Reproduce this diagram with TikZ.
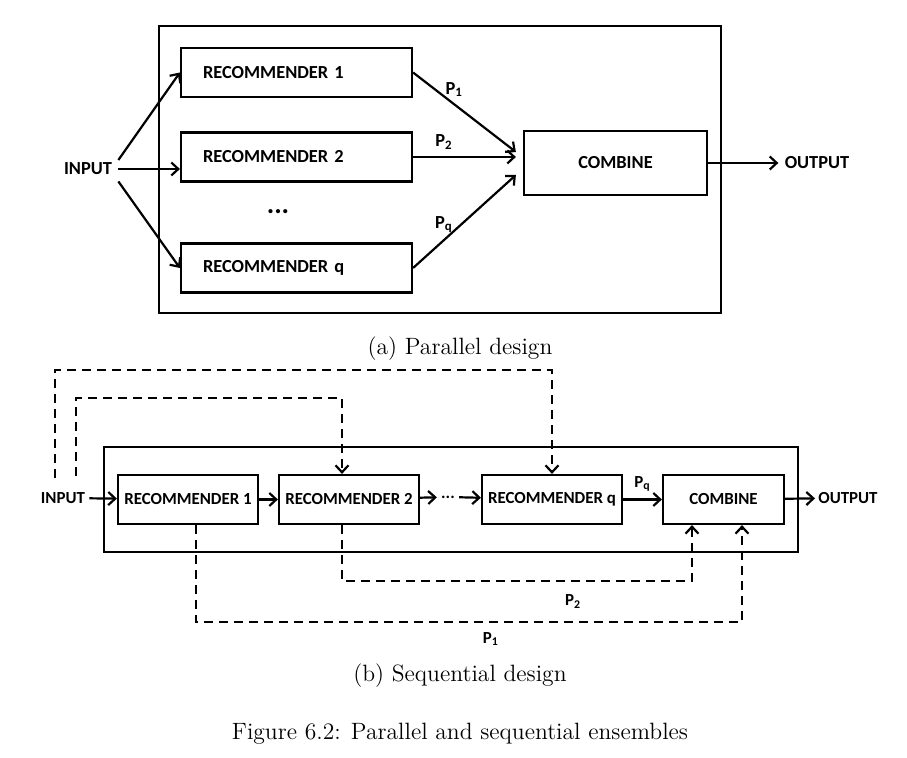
\documentclass[tikz,border=0pt]{standalone}
\usepackage{fontspec}
\usepackage{tikz}
\usetikzlibrary{arrows.meta}
\newfontfamily\calib{Carlito}
\newcommand{\bigdiag}{\calib\bfseries\fontsize{9.2}{11}\selectfont}
\newcommand{\smalldiag}{\calib\bfseries\fontsize{8.45}{10}\selectfont}

\begin{document}
\begin{tikzpicture}[x=0.5pt, y=-0.5pt,
    frame/.style={draw, line width=1.4pt, inner sep=0pt},
    recA/.style={draw, line width=1.1pt, font=\bigdiag, minimum height=24.5pt,
                 text width=93.5pt, inner xsep=11pt, align=left},
    recB/.style={draw, line width=1.1pt, font=\smalldiag, minimum width=70pt,
                 minimum height=24.5pt, inner sep=1pt},
    io/.style={inner sep=2pt},
    arr/.style={-{Straight Barb[length=3.5pt,width=6.5pt]}, line width=1.1pt},
    darr/.style={arr, dash pattern=on 4.5pt off 3pt},
    captext/.style={font=\fontsize{11.8}{14}\selectfont}
  ]
    \useasboundingbox (0,0) rectangle (907,758);

    % (a) parallel
    \node[frame, minimum width=281pt, minimum height=143.5pt] (frameA) at (440,169.5) {};
    \node[recA] (recA1) at (296.5,72.5) {RECOMMENDER 1};
    \node[recA] (recA2) at (296.5,157) {RECOMMENDER 2};
    \node[recA] (recAq) at (296.5,268) {RECOMMENDER q};
    \node[font=\calib\bfseries\fontsize{14}{14}\selectfont, inner sep=0pt] (dotsA) at (278,212) {...};
    \node[draw, line width=1.1pt, font=\bigdiag, minimum width=91.5pt, minimum height=32pt] (cmbA) at (615.5,163) {COMBINE};
    \node[io, font=\bigdiag, inner sep=3pt] (inA) at (88,169) {INPUT};
    \node[io, font=\bigdiag, inner sep=3pt] (outA) at (817,163) {OUTPUT};

    \draw[arr] ([yshift=4.5pt]inA.east) -- (recA1.west);
    \draw[arr] (inA.east) -- (recA2.west |- inA.east);
    \draw[arr] (inA.south east) -- (recAq.west);
    \draw[arr] (recA1.east) -- node[pos=0.4, above, font=\bigdiag] {P\textsubscript{1}} ([xshift=-3.5pt, yshift=5.5pt]cmbA.west);
    \draw[arr] (recA2.east) -- node[pos=0.3, above, font=\bigdiag] {P\textsubscript{2}} ([xshift=-3.5pt]recA2.east -| cmbA.west);
    \draw[arr] (recAq.east) -- node[pos=0.3, above, font=\bigdiag] {P\textsubscript{q}} ([xshift=-3.5pt, yshift=-6pt]cmbA.west);
    \draw[arr] (cmbA) -- (outA);

    \node[captext] (capA) at (460,349) {(a) Parallel design};

    % (b) sequential
    \node[frame, minimum width=347pt, minimum height=52.5pt] (frameB) at (451,499.5) {};
    \node[recB] (recB1) at (188,499.5) {RECOMMENDER 1};
    \node[recB] (recB2) at (349,499.5) {RECOMMENDER 2};
    \node[recB] (recBq) at (552,499.5) {RECOMMENDER q};
    \node[recB, minimum width=60.5pt] (cmbB) at (723.5,499.5) {COMBINE};
    \node[io, font=\smalldiag] (dotsB) at (448,497) {...};
    \node[io, font=\smalldiag] (inB) at (63,498) {INPUT};
    \node[io, font=\smalldiag, inner sep=1.5pt] (outB) at (848,498) {OUTPUT};

    \draw[arr] (inB) -- (recB1);
    \draw[arr] (recB1) -- (recB2);
    \draw[arr] (recB2) -- (dotsB);
    \draw[arr] (dotsB) -- (recBq);
    \draw[arr] (recBq) -- node[above, font=\smalldiag] {P\textsubscript{q}} (cmbB);
    \draw[arr] (cmbB) -- (outB);

    \draw[darr] ([xshift=-4pt, yshift=5pt]inB.north) -- ++(0,-108) -| (recBq.north);
    \draw[darr] ([xshift=6.5pt, yshift=6pt]inB.north) -- ++(0,-78) -| ([xshift=-3.5pt]recB2.north);
    \draw[darr] ([xshift=-3.5pt]recB2.south) -- ++(0,56) -| node[pos=0.33, below, yshift=-3pt, font=\smalldiag] {P\textsubscript{2}} ([xshift=-15.75pt]cmbB.south);
    \draw[darr] ([xshift=4pt]recB1.south) -- ++(0,97) -| node[pos=0.27, below, yshift=-1.5pt, font=\smalldiag] {P\textsubscript{1}} ([xshift=9.25pt]cmbB.south);

    \node[captext] (capB) at (460,676) {(b) Sequential design};
    \node[captext] (capFig) at (460,734) {Figure 6.2: Parallel and sequential ensembles};
  \end{tikzpicture}
\end{document}
